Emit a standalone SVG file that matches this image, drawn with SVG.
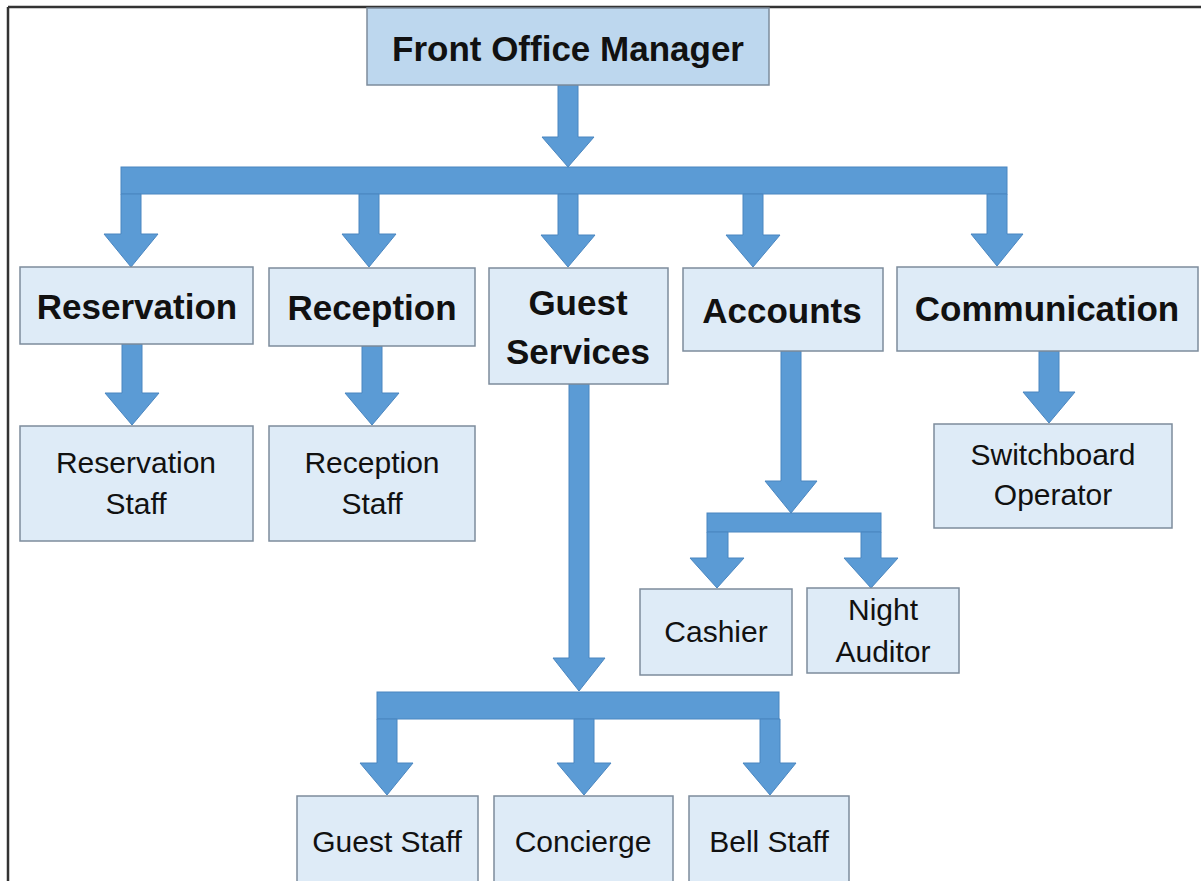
<svg xmlns="http://www.w3.org/2000/svg" width="1201" height="881" viewBox="0 0 1201 881">
<style>
.box{fill:#deebf7;stroke:#7d8c9c;stroke-width:1.5}
.top{fill:#bdd7ee;stroke:#7d8c9c;stroke-width:1.5}
.arr{fill:#5b9bd5;stroke:#4a86c0;stroke-width:1}
.b{font-family:"Liberation Sans",Arial,sans-serif;font-weight:bold;font-size:35px;fill:#111;text-anchor:middle}
.r{font-family:"Liberation Sans",Arial,sans-serif;font-size:30px;fill:#111;text-anchor:middle}
</style>
<rect x="0" y="0" width="1201" height="881" fill="#ffffff"/>
<g id="frame" stroke="#333" stroke-width="2.5" fill="none">
<line x1="8" y1="7" x2="1201" y2="7"/>
<line x1="8" y1="7" x2="8" y2="881"/>
</g>
<g id="connectors">
<polygon class="arr" points="558,85 578,85 578,137 594,137 568,167 542,137 558,137"/>
<rect class="arr" x="121" y="167" width="886" height="27"/>
<polygon class="arr" points="121,194 141,194 141,234 158,234 131,267 104,234 121,234"/>
<polygon class="arr" points="359,194 379,194 379,234 396,234 369,267 342,234 359,234"/>
<polygon class="arr" points="558,194 578,194 578,235 595,235 568,267 541,235 558,235"/>
<polygon class="arr" points="743,194 763,194 763,235 780,235 753,267 726,235 743,235"/>
<polygon class="arr" points="987,194 1007,194 1007,234 1023,234 997,266 971,234 987,234"/>
<polygon class="arr" points="122,344 142,344 142,393 159,393 132,425 105,393 122,393"/>
<polygon class="arr" points="362,346 382,346 382,393 399,393 372,425 345,393 362,393"/>
<polygon class="arr" points="1039,351 1059,351 1059,392 1075,392 1049,423 1023,392 1039,392"/>
<polygon class="arr" points="781,351 801,351 801,481 817,481 791,513 765,481 781,481"/>
<rect class="arr" x="707" y="513" width="174" height="19"/>
<polygon class="arr" points="707,532 728,532 728,558 744,558 717,588 690,558 707,558"/>
<polygon class="arr" points="861,532 881,532 881,558 898,558 871,588 844,558 861,558"/>
<polygon class="arr" points="569,384 589,384 589,658 605,658 579,691 553,658 569,658"/>
<rect class="arr" x="377" y="692" width="402" height="27"/>
<polygon class="arr" points="377,719 397,719 397,763 413,763 387,795 360,763 377,763"/>
<polygon class="arr" points="574,719 594,719 594,763 611,763 584,795 557,763 574,763"/>
<polygon class="arr" points="760,719 780,719 780,763 796,763 770,795 743,763 760,763"/>
</g>
<g id="manager"><rect class="top" x="367" y="8" width="402" height="77"/><text class="b" x="568" y="61" font-size="36">Front Office Manager</text></g>
<g id="reservation"><rect class="box" x="20" y="267" width="233" height="77"/><text class="b" x="137" y="319">Reservation</text></g>
<g id="reception"><rect class="box" x="269" y="268" width="206" height="78"/><text class="b" x="372" y="320">Reception</text></g>
<g id="guest-services"><rect class="box" x="489" y="268" width="179" height="116"/><text class="b" x="578" y="315">Guest</text><text class="b" x="578" y="364">Services</text></g>
<g id="accounts"><rect class="box" x="683" y="268" width="200" height="83"/><text class="b" x="782" y="323" font-size="34">Accounts</text></g>
<g id="communication"><rect class="box" x="897" y="267" width="301" height="84"/><text class="b" x="1047" y="321">Communication</text></g>
<g id="reservation-staff"><rect class="box" x="20" y="426" width="233" height="115"/><text class="r" x="136" y="473">Reservation</text><text class="r" x="136" y="514">Staff</text></g>
<g id="reception-staff"><rect class="box" x="269" y="426" width="206" height="115"/><text class="r" x="372" y="473">Reception</text><text class="r" x="372" y="514">Staff</text></g>
<g id="switchboard"><rect class="box" x="934" y="424" width="238" height="104"/><text class="r" x="1053" y="465">Switchboard</text><text class="r" x="1053" y="505">Operator</text></g>
<g id="cashier"><rect class="box" x="640" y="589" width="152" height="86"/><text class="r" x="716" y="642">Cashier</text></g>
<g id="night-auditor"><rect class="box" x="807" y="588" width="152" height="85"/><text class="r" x="883" y="620">Night</text><text class="r" x="883" y="662">Auditor</text></g>
<g id="guest-staff"><rect class="box" x="297" y="796" width="181" height="100"/><text class="r" x="387" y="852">Guest Staff</text></g>
<g id="concierge"><rect class="box" x="494" y="796" width="179" height="100"/><text class="r" x="583" y="852">Concierge</text></g>
<g id="bell-staff"><rect class="box" x="689" y="796" width="160" height="100"/><text class="r" x="769" y="852">Bell Staff</text></g>
</svg>
